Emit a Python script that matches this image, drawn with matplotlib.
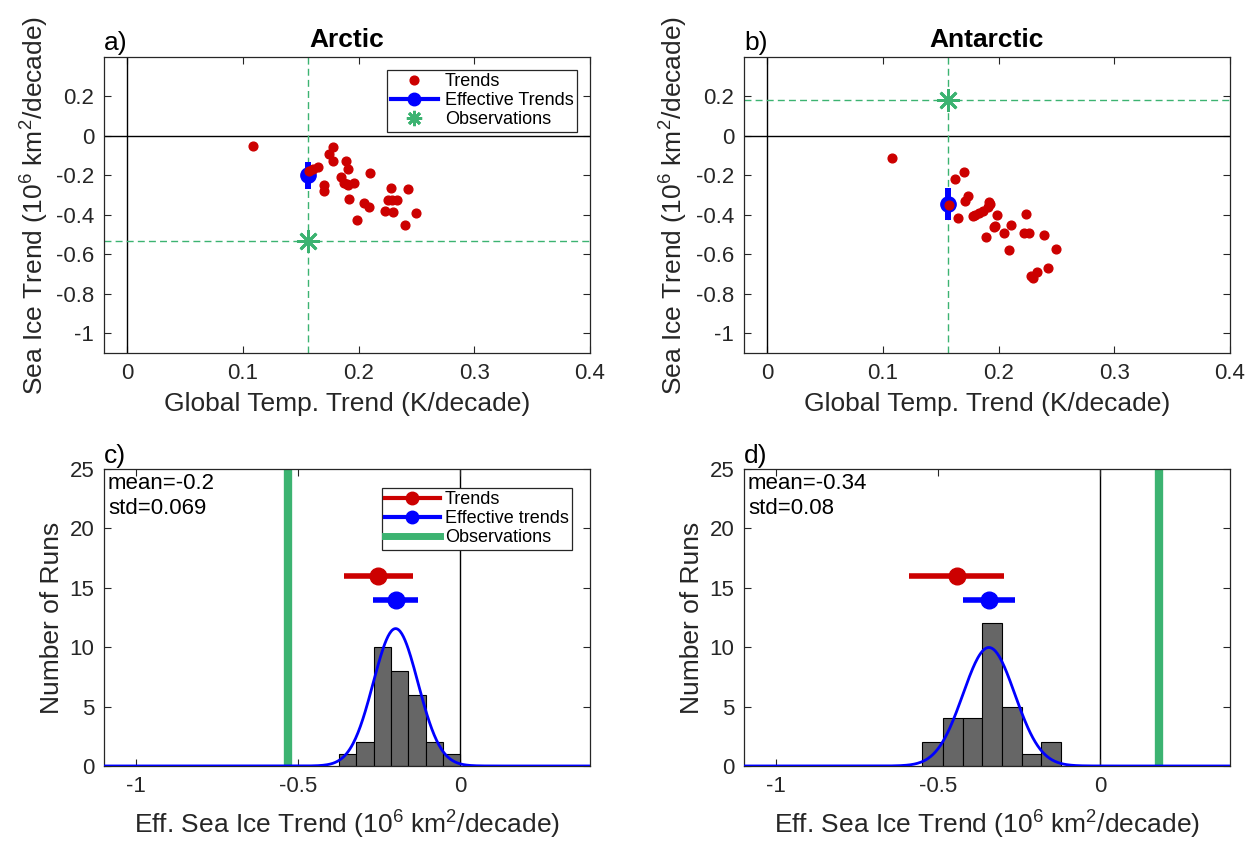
#!/usr/bin/env python3
"""Sea ice trend vs global temperature trend, Arctic and Antarctic, with histograms."""

import numpy as np
import matplotlib
matplotlib.use("Agg")
import matplotlib.pyplot as plt
from matplotlib.ticker import FormatStrFormatter
from matplotlib.lines import Line2D

plt.rcParams["font.family"] = ["Liberation Sans", "DejaVu Sans"]
plt.rcParams["axes.unicode_minus"] = False
plt.rcParams["mathtext.fontset"] = "custom"
plt.rcParams["mathtext.rm"] = "Liberation Sans"
plt.rcParams["mathtext.it"] = "Liberation Sans:italic"

RED = "#cc0000"
BLUE = "#0000ff"
GREEN = "#3cb371"
GRAY = "#262626"

# --- Arctic: per-run trends (global temp trend, sea ice trend) ---
arc_gt = [0.109, 0.178, 0.174, 0.178, 0.189, 0.191, 0.165, 0.161, 0.157, 0.210,
          0.185, 0.187, 0.191, 0.196, 0.170, 0.170, 0.228, 0.243, 0.192, 0.205,
          0.209, 0.225, 0.233, 0.223, 0.230, 0.250, 0.199, 0.240, 0.190, 0.229]
arc_si = [-0.049, -0.057, -0.091, -0.125, -0.128, -0.169, -0.155, -0.169, -0.177, -0.186,
          -0.206, -0.240, -0.248, -0.240, -0.248, -0.277, -0.264, -0.267, -0.321, -0.341,
          -0.358, -0.324, -0.324, -0.380, -0.387, -0.390, -0.426, -0.449, -0.245, -0.324]
arc_obs = (0.156, -0.532)
arc_eff = (0.156, -0.2, 0.069)          # x, mean, std
arc_trend = (-0.253, 0.107)             # mean, std of raw trends

# --- Antarctic ---
ant_gt = [0.108, 0.170, 0.162, 0.174, 0.171, 0.192, 0.191, 0.187, 0.183, 0.178,
          0.165, 0.199, 0.224, 0.157, 0.211, 0.196, 0.189, 0.205, 0.222, 0.226,
          0.239, 0.250, 0.209, 0.243, 0.233, 0.228, 0.230, 0.193, 0.180, 0.197]
ant_si = [-0.114, -0.185, -0.217, -0.306, -0.332, -0.333, -0.360, -0.382, -0.391, -0.407,
          -0.414, -0.402, -0.396, -0.352, -0.451, -0.463, -0.512, -0.493, -0.493, -0.493,
          -0.502, -0.572, -0.579, -0.667, -0.690, -0.710, -0.719, -0.345, -0.400, -0.455]
ant_obs = (0.156, 0.182)
ant_eff = (0.156, -0.344, 0.08)
ant_trend = (-0.443, 0.147)

# --- histograms of effective trends ---
arc_edges = [-0.375, -0.321, -0.268, -0.214, -0.161, -0.107, -0.054, 0.0]
arc_counts = [1, 2, 10, 8, 6, 2, 1]
ant_edges = [-0.549, -0.487, -0.425, -0.364, -0.303, -0.243, -0.182, -0.122]
ant_counts = [2, 4, 4, 12, 5, 1, 2]
fit_scale = 2.0   # scaling of the normal fit curve

LABEL_FS = 19
TICK_FS = 16


def style_axes(ax):
    ax.tick_params(direction="in", top=True, right=True, length=5, labelsize=TICK_FS,
                   color=GRAY, labelcolor=GRAY, pad=7)
    for s in ax.spines.values():
        s.set_color(GRAY)
        s.set_linewidth(0.9)


def scatter_panel(ax, gt, si, obs, eff, letter, title, legend):
    ax.axvline(0, color="k", lw=1)
    ax.axhline(0, color="k", lw=1)
    ax.axvline(obs[0], color=GREEN, lw=1, ls=(0, (5, 3)))
    ax.axhline(obs[1], color=GREEN, lw=1, ls=(0, (5, 3)))
    ax.errorbar(eff[0], eff[1], yerr=eff[2], fmt="o", color=BLUE, ms=11,
                elinewidth=4.3, capsize=0, zorder=3)
    ax.plot(gt, si, "o", color=RED, ms=6.3, zorder=4)
    ax.plot(obs[0], obs[1], marker=(8, 2, 0), color=GREEN, ms=16, mew=2, zorder=5)
    ax.set_xlim(-0.02, 0.4)
    ax.set_ylim(-1.1, 0.4)
    ax.set_xticks([0, 0.1, 0.2, 0.3, 0.4])
    ax.set_yticks([-1, -0.8, -0.6, -0.4, -0.2, 0, 0.2])
    ax.xaxis.set_major_formatter(FormatStrFormatter("%g"))
    ax.yaxis.set_major_formatter(FormatStrFormatter("%g"))
    ax.set_xlabel("Global Temp. Trend (K/decade)", fontsize=LABEL_FS, color=GRAY, labelpad=6)
    ax.set_ylabel("Sea Ice Trend (10$^6$ km$^2$/decade)", fontsize=LABEL_FS, color=GRAY,
                  labelpad=4)
    ax.set_title(title, fontsize=19, fontweight="bold", pad=7)
    ax.text(0.0, 1.008, letter, transform=ax.transAxes, fontsize=LABEL_FS, va="bottom")
    style_axes(ax)
    if legend:
        handles = [
            Line2D([], [], ls="none", marker="o", color=RED, ms=6.3),
            Line2D([], [], color=BLUE, lw=3, marker="o", ms=9),
            Line2D([], [], ls="none", marker=(8, 2, 0), color=GREEN, ms=11, mew=2),
        ]
        leg = ax.legend(handles, ["Trends", "Effective Trends", "Observations"],
                        loc="upper right", bbox_to_anchor=(0.985, 0.975), fontsize=13,
                        fancybox=False, edgecolor=GRAY, framealpha=1,
                        borderpad=0.2, labelspacing=0.1, handlelength=2.6,
                        handletextpad=0.4, borderaxespad=0.3)
        leg.get_frame().set_linewidth(0.9)


def hist_panel(ax, edges, counts, eff, trend, obs, letter, legend):
    edges = np.array(edges)
    ax.bar(edges[:-1], counts, width=np.diff(edges), align="edge",
           color="#666666", edgecolor="k", lw=0.8, zorder=2)
    ax.axvline(0, color="k", lw=1, zorder=1)
    ax.axvline(obs, color=GREEN, lw=6, zorder=2)
    xs = np.linspace(-1.1, 0.4, 600)
    fit = fit_scale / (eff[2] * np.sqrt(2 * np.pi)) * np.exp(-0.5 * ((xs - eff[1]) / eff[2]) ** 2)
    ax.plot(xs, fit, color=BLUE, lw=2, zorder=3)
    ax.errorbar(trend[0], 16, xerr=trend[1], fmt="o", color=RED, ms=12,
                elinewidth=4, capsize=0, zorder=4)
    ax.errorbar(eff[1], 14, xerr=eff[2], fmt="o", color=BLUE, ms=12,
                elinewidth=4, capsize=0, zorder=4)
    ax.set_xlim(-1.1, 0.4)
    ax.set_ylim(0, 25)
    ax.set_xticks([-1, -0.5, 0])
    ax.set_yticks([0, 5, 10, 15, 20, 25])
    ax.xaxis.set_major_formatter(FormatStrFormatter("%g"))
    ax.set_xlabel("Eff. Sea Ice Trend (10$^6$ km$^2$/decade)", fontsize=LABEL_FS, color=GRAY,
                  labelpad=9)
    ax.set_ylabel("Number of Runs", fontsize=LABEL_FS, color=GRAY, labelpad=4)
    ax.text(0.0, 1.005, letter, transform=ax.transAxes, fontsize=LABEL_FS, va="bottom")
    ax.text(0.008, 0.985, "mean=%.2g\nstd=%.2g" % (eff[1], eff[2]), transform=ax.transAxes,
            fontsize=16, va="top", ha="left", linespacing=1.2)
    style_axes(ax)
    if legend:
        handles = [
            Line2D([], [], color=RED, lw=3, marker="o", ms=9),
            Line2D([], [], color=BLUE, lw=3, marker="o", ms=9),
            Line2D([], [], color=GREEN, lw=5),
        ]
        leg = ax.legend(handles, ["Trends", "Effective trends", "Observations"],
                        loc="upper right", bbox_to_anchor=(0.975, 0.955), fontsize=13,
                        fancybox=False, edgecolor=GRAY, framealpha=1,
                        borderpad=0.2, labelspacing=0.1, handlelength=3.0,
                        handletextpad=0.3, borderaxespad=0.3)
        leg.get_frame().set_linewidth(0.9)


fig = plt.figure(figsize=(12.58, 8.42), dpi=100)
ax_a = fig.add_axes([0.0827, 0.5808, 0.3863, 0.3515])
ax_b = fig.add_axes([0.5914, 0.5808, 0.3863, 0.3515])
ax_c = fig.add_axes([0.0827, 0.0903, 0.3863, 0.3527])
ax_d = fig.add_axes([0.5914, 0.0903, 0.3863, 0.3527])

scatter_panel(ax_a, arc_gt, arc_si, arc_obs, arc_eff, "a)", "Arctic", True)
scatter_panel(ax_b, ant_gt, ant_si, ant_obs, ant_eff, "b)", "Antarctic", False)
hist_panel(ax_c, arc_edges, arc_counts, arc_eff, arc_trend, arc_obs[1], "c)", True)
hist_panel(ax_d, ant_edges, ant_counts, ant_eff, ant_trend, ant_obs[1], "d)", False)

fig.savefig("out.png", dpi=100)
